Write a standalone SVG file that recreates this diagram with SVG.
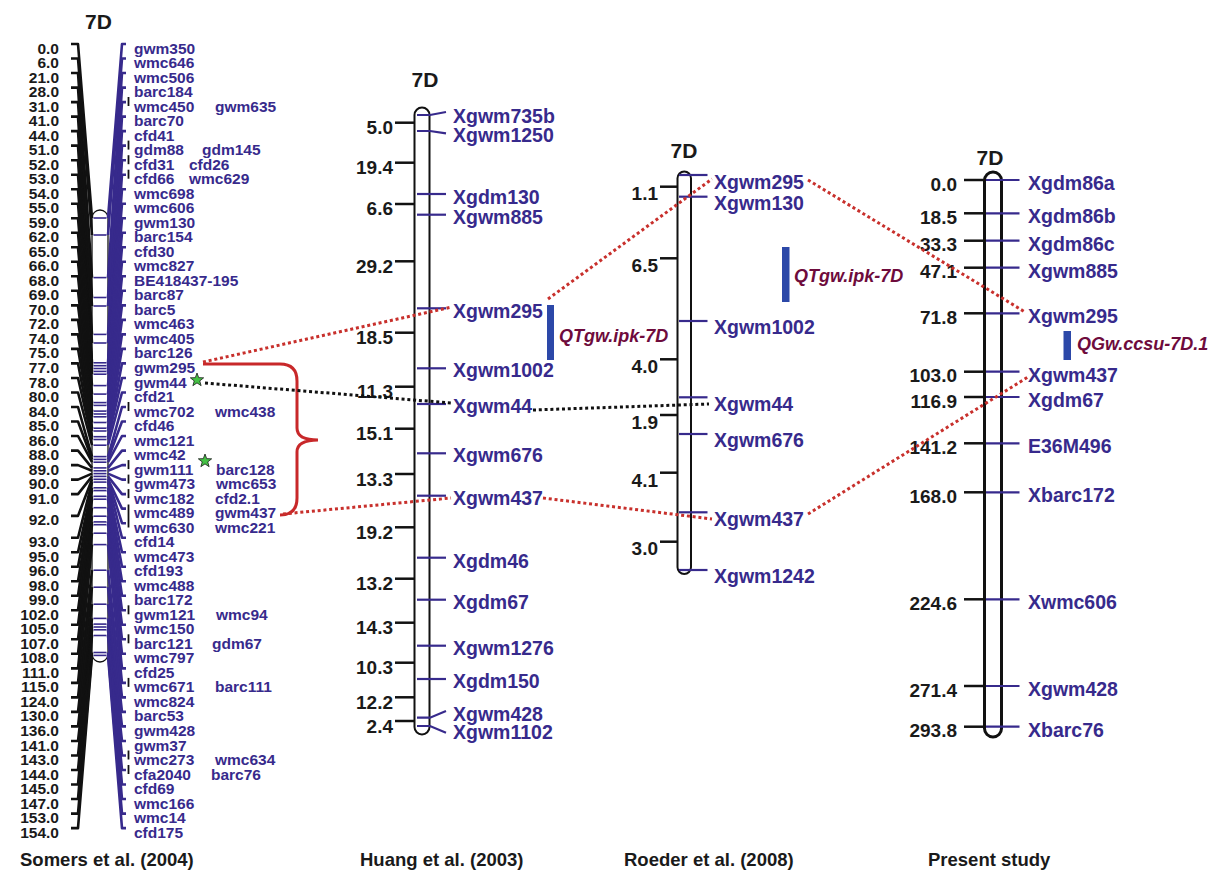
<svg xmlns="http://www.w3.org/2000/svg" width="1219" height="871" viewBox="0 0 1219 871">
<style>
text{font-family:"Liberation Sans",Arial,Helvetica,sans-serif;font-weight:bold}
.sn{font-size:15.5px;fill:#1a1a1a;text-anchor:end}
.sl{font-size:15.5px;fill:#372a8c}
.num{font-size:19px;fill:#1a1a1a;text-anchor:end}
.lab{font-size:19.5px;fill:#372a8c}
.ttl{font-size:21px;fill:#1a1a1a;text-anchor:middle}
.cap{font-size:18.5px;fill:#1a1a1a}
.qtl{font-size:18px;fill:#6e0b3c;font-style:italic}
.chrom{fill:#fff;stroke:#111}
.tick{stroke:#111;stroke-width:2.5;fill:none}
.mk{stroke:#372a8c;stroke-width:2.2;fill:none}
.rd{stroke:#c8302c;stroke-width:3;stroke-dasharray:3 2.8;fill:none}
.bd{stroke:#111;stroke-width:3;stroke-dasharray:3 2.8;fill:none}
.qbar{fill:#2c48a8}
</style>
<defs>
<polygon id="star" points="0,-7 1.7,-2.35 6.66,-2.16 2.76,0.9 4.11,5.66 0,2.9 -4.11,5.66 -2.76,0.9 -6.66,-2.16 -1.7,-2.35" fill="#44c144" stroke="#1a1a1a" stroke-width="0.8"/>
</defs>
<rect width="1219" height="871" fill="#fff"/>

<!-- Somers et al. (2004) -->
<g id="somers">
<text class="ttl" x="98.5" y="29">7D</text>
<rect class="chrom" x="92" y="210" width="16" height="452" rx="8" stroke-width="1.3"/>
<g stroke="#372a8c" stroke-width="1.6">
<line x1="93.5" x2="106.5" y1="218" y2="218"/><line x1="93.5" x2="106.5" y1="235" y2="235"/><line x1="93.5" x2="106.5" y1="277.6" y2="277.6"/><line x1="93.5" x2="106.5" y1="297.5" y2="297.5"/><line x1="93.5" x2="106.5" y1="306" y2="306"/><line x1="93.5" x2="106.5" y1="334.4" y2="334.4"/><line x1="93.5" x2="106.5" y1="343" y2="343"/><line x1="93.5" x2="106.5" y1="362.8" y2="362.8"/><line x1="93.5" x2="106.5" y1="365.7" y2="365.7"/><line x1="93.5" x2="106.5" y1="368.5" y2="368.5"/><line x1="93.5" x2="106.5" y1="371.4" y2="371.4"/><line x1="93.5" x2="106.5" y1="374.2" y2="374.2"/><line x1="93.5" x2="106.5" y1="385.6" y2="385.6"/><line x1="93.5" x2="106.5" y1="394.1" y2="394.1"/><line x1="93.5" x2="106.5" y1="402.6" y2="402.6"/><line x1="93.5" x2="106.5" y1="405.4" y2="405.4"/><line x1="93.5" x2="106.5" y1="411.1" y2="411.1"/><line x1="93.5" x2="106.5" y1="414" y2="414"/><line x1="93.5" x2="106.5" y1="416.8" y2="416.8"/><line x1="93.5" x2="106.5" y1="422.5" y2="422.5"/><line x1="93.5" x2="106.5" y1="428.2" y2="428.2"/><line x1="93.5" x2="106.5" y1="431" y2="431"/><line x1="93.5" x2="106.5" y1="436.7" y2="436.7"/><line x1="93.5" x2="106.5" y1="439.5" y2="439.5"/><line x1="93.5" x2="106.5" y1="445.2" y2="445.2"/><line x1="93.5" x2="106.5" y1="456.6" y2="456.6"/><line x1="93.5" x2="106.5" y1="459.4" y2="459.4"/><line x1="93.5" x2="106.5" y1="462.2" y2="462.2"/><line x1="93.5" x2="106.5" y1="467.9" y2="467.9"/><line x1="93.5" x2="106.5" y1="470.8" y2="470.8"/><line x1="93.5" x2="106.5" y1="473.6" y2="473.6"/><line x1="93.5" x2="106.5" y1="476.4" y2="476.4"/><line x1="93.5" x2="106.5" y1="479.3" y2="479.3"/><line x1="93.5" x2="106.5" y1="482.1" y2="482.1"/><line x1="93.5" x2="106.5" y1="487.8" y2="487.8"/><line x1="93.5" x2="106.5" y1="490.6" y2="490.6"/><line x1="93.5" x2="106.5" y1="496.3" y2="496.3"/><line x1="93.5" x2="106.5" y1="499.2" y2="499.2"/><line x1="93.5" x2="106.5" y1="507.7" y2="507.7"/><line x1="93.5" x2="106.5" y1="516.2" y2="516.2"/><line x1="93.5" x2="106.5" y1="521.9" y2="521.9"/><line x1="93.5" x2="106.5" y1="524.7" y2="524.7"/><line x1="93.5" x2="106.5" y1="533.2" y2="533.2"/><line x1="93.5" x2="106.5" y1="544.6" y2="544.6"/><line x1="93.5" x2="106.5" y1="570.2" y2="570.2"/><line x1="93.5" x2="106.5" y1="587.2" y2="587.2"/><line x1="93.5" x2="106.5" y1="604.2" y2="604.2"/><line x1="93.5" x2="106.5" y1="618.4" y2="618.4"/><line x1="93.5" x2="106.5" y1="624.1" y2="624.1"/><line x1="93.5" x2="106.5" y1="627" y2="627"/><line x1="93.5" x2="106.5" y1="629.8" y2="629.8"/><line x1="93.5" x2="106.5" y1="635.5" y2="635.5"/><line x1="93.5" x2="106.5" y1="652.5" y2="652.5"/><line x1="93.5" x2="106.5" y1="655.4" y2="655.4"/>
</g>
<g stroke="#111" stroke-width="2.6" fill="none" stroke-linejoin="round">
<polyline points="71,44 78,44 92,218"/><polyline points="71,58.5 78,58.5 92,235"/><polyline points="71,73 78,73 92,277.6"/><polyline points="71,87.6 78,87.6 92,297.5"/><polyline points="71,102.1 78,102.1 92,306"/><polyline points="71,116.6 78,116.6 92,334.4"/><polyline points="71,131.1 78,131.1 92,343"/><polyline points="71,145.6 78,145.6 92,362.8"/><polyline points="71,160.2 78,160.2 92,365.7"/><polyline points="71,174.7 78,174.7 92,368.5"/><polyline points="71,189.2 78,189.2 92,371.4"/><polyline points="71,203.7 78,203.7 92,374.2"/><polyline points="71,218.2 78,218.2 92,385.6"/><polyline points="71,232.8 78,232.8 92,394.1"/><polyline points="71,247.3 78,247.3 92,402.6"/><polyline points="71,261.8 78,261.8 92,405.4"/><polyline points="71,276.3 78,276.3 92,411.1"/><polyline points="71,290.8 78,290.8 92,414"/><polyline points="71,305.4 78,305.4 92,416.8"/><polyline points="71,319.9 78,319.9 92,422.5"/><polyline points="71,334.4 78,334.4 92,428.2"/><polyline points="71,348.9 78,348.9 92,431"/><polyline points="71,363.4 78,363.4 92,436.7"/><polyline points="71,378 78,378 92,439.5"/><polyline points="71,392.5 78,392.5 92,445.2"/><polyline points="71,407 78,407 92,456.6"/><polyline points="71,421.5 78,421.5 92,459.4"/><polyline points="71,436 78,436 92,462.2"/><polyline points="71,450.6 78,450.6 92,467.9"/><polyline points="71,465.1 78,465.1 92,470.8"/><polyline points="71,479.6 78,479.6 92,473.6"/><polyline points="71,494.1 78,494.1 92,476.4"/><polyline points="71,515.9 78,515.9 92,479.3"/><polyline points="71,537.7 78,537.7 92,482.1"/><polyline points="71,552.2 78,552.2 92,487.8"/><polyline points="71,566.7 78,566.7 92,490.6"/><polyline points="71,581.2 78,581.2 92,496.3"/><polyline points="71,595.8 78,595.8 92,499.2"/><polyline points="71,610.3 78,610.3 92,507.7"/><polyline points="71,624.8 78,624.8 92,516.2"/><polyline points="71,639.3 78,639.3 92,521.9"/><polyline points="71,653.8 78,653.8 92,524.7"/><polyline points="71,668.4 78,668.4 92,533.2"/><polyline points="71,682.9 78,682.9 92,544.6"/><polyline points="71,697.4 78,697.4 92,570.2"/><polyline points="71,711.9 78,711.9 92,587.2"/><polyline points="71,726.4 78,726.4 92,604.2"/><polyline points="71,741 78,741 92,618.4"/><polyline points="71,755.5 78,755.5 92,624.1"/><polyline points="71,770 78,770 92,627"/><polyline points="71,784.5 78,784.5 92,629.8"/><polyline points="71,799 78,799 92,635.5"/><polyline points="71,813.6 78,813.6 92,652.5"/><polyline points="71,828.1 78,828.1 92,655.4"/>
</g>
<g stroke="#372a8c" stroke-width="2.6" fill="none" stroke-linejoin="round">
<polyline points="108,218 122,44 126,44"/><polyline points="108,235 122,58.5 126,58.5"/><polyline points="108,277.6 122,73 126,73"/><polyline points="108,297.5 122,87.6 126,87.6"/><polyline points="108,306 122,102.1 126,102.1"/><polyline points="108,334.4 122,116.6 126,116.6"/><polyline points="108,343 122,131.1 126,131.1"/><polyline points="108,362.8 122,145.6 126,145.6"/><polyline points="108,365.7 122,160.2 126,160.2"/><polyline points="108,368.5 122,174.7 126,174.7"/><polyline points="108,371.4 122,189.2 126,189.2"/><polyline points="108,374.2 122,203.7 126,203.7"/><polyline points="108,385.6 122,218.2 126,218.2"/><polyline points="108,394.1 122,232.8 126,232.8"/><polyline points="108,402.6 122,247.3 126,247.3"/><polyline points="108,405.4 122,261.8 126,261.8"/><polyline points="108,411.1 122,276.3 126,276.3"/><polyline points="108,414 122,290.8 126,290.8"/><polyline points="108,416.8 122,305.4 126,305.4"/><polyline points="108,422.5 122,319.9 126,319.9"/><polyline points="108,428.2 122,334.4 126,334.4"/><polyline points="108,431 122,348.9 126,348.9"/><polyline points="108,436.7 122,363.4 126,363.4"/><polyline points="108,439.5 122,378 126,378"/><polyline points="108,445.2 122,392.5 126,392.5"/><polyline points="108,456.6 122,407 126,407"/><polyline points="108,459.4 122,421.5 126,421.5"/><polyline points="108,462.2 122,436 126,436"/><polyline points="108,467.9 122,450.6 126,450.6"/><polyline points="108,470.8 122,465.1 126,465.1"/><polyline points="108,473.6 122,479.6 126,479.6"/><polyline points="108,476.4 122,494.1 126,494.1"/><polyline points="108,479.3 122,508.6 126,508.6"/><polyline points="108,479.3 122,523.2 126,523.2"/><polyline points="108,482.1 122,537.7 126,537.7"/><polyline points="108,487.8 122,552.2 126,552.2"/><polyline points="108,490.6 122,566.7 126,566.7"/><polyline points="108,496.3 122,581.2 126,581.2"/><polyline points="108,499.2 122,595.8 126,595.8"/><polyline points="108,507.7 122,610.3 126,610.3"/><polyline points="108,516.2 122,624.8 126,624.8"/><polyline points="108,521.9 122,639.3 126,639.3"/><polyline points="108,524.7 122,653.8 126,653.8"/><polyline points="108,533.2 122,668.4 126,668.4"/><polyline points="108,544.6 122,682.9 126,682.9"/><polyline points="108,570.2 122,697.4 126,697.4"/><polyline points="108,587.2 122,711.9 126,711.9"/><polyline points="108,604.2 122,726.4 126,726.4"/><polyline points="108,618.4 122,741 126,741"/><polyline points="108,624.1 122,755.5 126,755.5"/><polyline points="108,627 122,770 126,770"/><polyline points="108,629.8 122,784.5 126,784.5"/><polyline points="108,635.5 122,799 126,799"/><polyline points="108,652.5 122,813.6 126,813.6"/><polyline points="108,655.4 122,828.1 126,828.1"/>
</g>
<g stroke="#111" stroke-width="1.8">
<line x1="128.5" x2="128.5" y1="97" y2="106"/><line x1="128.5" x2="128.5" y1="140.6" y2="149.6"/><line x1="128.5" x2="128.5" y1="155.2" y2="164.2"/><line x1="128.5" x2="128.5" y1="169.7" y2="178.7"/><line x1="128.5" x2="128.5" y1="402" y2="411"/><line x1="128.5" x2="128.5" y1="460.1" y2="469.1"/><line x1="128.5" x2="128.5" y1="474.6" y2="483.6"/><line x1="128.5" x2="128.5" y1="489.1" y2="498.1"/><line x1="128.5" x2="128.5" y1="504.5" y2="527.5"/><line x1="128.5" x2="128.5" y1="605.3" y2="614.3"/><line x1="128.5" x2="128.5" y1="634.3" y2="643.3"/><line x1="128.5" x2="128.5" y1="677.9" y2="686.9"/><line x1="128.5" x2="128.5" y1="750.5" y2="759.5"/><line x1="128.5" x2="128.5" y1="765" y2="774"/>
</g>
<g class="sn">
<text class="sn" x="59" y="53.5">0.0</text><text class="sn" x="59" y="68">6.0</text><text class="sn" x="59" y="82.5">21.0</text><text class="sn" x="59" y="97.1">28.0</text><text class="sn" x="59" y="111.6">31.0</text><text class="sn" x="59" y="126.1">41.0</text><text class="sn" x="59" y="140.6">44.0</text><text class="sn" x="59" y="155.1">51.0</text><text class="sn" x="59" y="169.7">52.0</text><text class="sn" x="59" y="184.2">53.0</text><text class="sn" x="59" y="198.7">54.0</text><text class="sn" x="59" y="213.2">55.0</text><text class="sn" x="59" y="227.7">59.0</text><text class="sn" x="59" y="242.3">62.0</text><text class="sn" x="59" y="256.8">65.0</text><text class="sn" x="59" y="271.3">66.0</text><text class="sn" x="59" y="285.8">68.0</text><text class="sn" x="59" y="300.3">69.0</text><text class="sn" x="59" y="314.9">70.0</text><text class="sn" x="59" y="329.4">72.0</text><text class="sn" x="59" y="343.9">74.0</text><text class="sn" x="59" y="358.4">75.0</text><text class="sn" x="59" y="372.9">77.0</text><text class="sn" x="59" y="387.5">78.0</text><text class="sn" x="59" y="402">80.0</text><text class="sn" x="59" y="416.5">84.0</text><text class="sn" x="59" y="431">85.0</text><text class="sn" x="59" y="445.5">86.0</text><text class="sn" x="59" y="460.1">88.0</text><text class="sn" x="59" y="474.6">89.0</text><text class="sn" x="59" y="489.1">90.0</text><text class="sn" x="59" y="503.6">91.0</text><text class="sn" x="59" y="525.4">92.0</text><text class="sn" x="59" y="547.2">93.0</text><text class="sn" x="59" y="561.7">95.0</text><text class="sn" x="59" y="576.2">96.0</text><text class="sn" x="59" y="590.7">98.0</text><text class="sn" x="59" y="605.3">99.0</text><text class="sn" x="59" y="619.8">102.0</text><text class="sn" x="59" y="634.3">105.0</text><text class="sn" x="59" y="648.8">107.0</text><text class="sn" x="59" y="663.3">108.0</text><text class="sn" x="59" y="677.9">111.0</text><text class="sn" x="59" y="692.4">115.0</text><text class="sn" x="59" y="706.9">124.0</text><text class="sn" x="59" y="721.4">130.0</text><text class="sn" x="59" y="735.9">136.0</text><text class="sn" x="59" y="750.5">141.0</text><text class="sn" x="59" y="765">143.0</text><text class="sn" x="59" y="779.5">144.0</text><text class="sn" x="59" y="794">145.0</text><text class="sn" x="59" y="808.5">147.0</text><text class="sn" x="59" y="823.1">153.0</text><text class="sn" x="59" y="837.6">154.0</text>
</g>
<g class="sl">
<text class="sl" x="134" y="53.5">gwm350</text><text class="sl" x="134" y="68">wmc646</text><text class="sl" x="134" y="82.5">wmc506</text><text class="sl" x="134" y="97.1">barc184</text><text class="sl" x="134" y="111.6">wmc450</text><text class="sl" x="215" y="111.6">gwm635</text><text class="sl" x="134" y="126.1">barc70</text><text class="sl" x="134" y="140.6">cfd41</text><text class="sl" x="134" y="155.1">gdm88</text><text class="sl" x="202" y="155.1">gdm145</text><text class="sl" x="134" y="169.7">cfd31</text><text class="sl" x="189" y="169.7">cfd26</text><text class="sl" x="134" y="184.2">cfd66</text><text class="sl" x="189" y="184.2">wmc629</text><text class="sl" x="134" y="198.7">wmc698</text><text class="sl" x="134" y="213.2">wmc606</text><text class="sl" x="134" y="227.7">gwm130</text><text class="sl" x="134" y="242.3">barc154</text><text class="sl" x="134" y="256.8">cfd30</text><text class="sl" x="134" y="271.3">wmc827</text><text class="sl" x="134" y="285.8">BE418437-195</text><text class="sl" x="134" y="300.3">barc87</text><text class="sl" x="134" y="314.9">barc5</text><text class="sl" x="134" y="329.4">wmc463</text><text class="sl" x="134" y="343.9">wmc405</text><text class="sl" x="134" y="358.4">barc126</text><text class="sl" x="134" y="372.9">gwm295</text><text class="sl" x="134" y="387.5">gwm44</text><text class="sl" x="134" y="402">cfd21</text><text class="sl" x="134" y="416.5">wmc702</text><text class="sl" x="215" y="416.5">wmc438</text><text class="sl" x="134" y="431">cfd46</text><text class="sl" x="134" y="445.5">wmc121</text><text class="sl" x="134" y="460.1">wmc42</text><text class="sl" x="134" y="474.6">gwm111</text><text class="sl" x="216" y="474.6">barc128</text><text class="sl" x="134" y="489.1">gwm473</text><text class="sl" x="216" y="489.1">wmc653</text><text class="sl" x="134" y="503.6">wmc182</text><text class="sl" x="215" y="503.6">cfd2.1</text><text class="sl" x="134" y="518.1">wmc489</text><text class="sl" x="215" y="518.1">gwm437</text><text class="sl" x="134" y="532.7">wmc630</text><text class="sl" x="215" y="532.7">wmc221</text><text class="sl" x="134" y="547.2">cfd14</text><text class="sl" x="134" y="561.7">wmc473</text><text class="sl" x="134" y="576.2">cfd193</text><text class="sl" x="134" y="590.7">wmc488</text><text class="sl" x="134" y="605.3">barc172</text><text class="sl" x="134" y="619.8">gwm121</text><text class="sl" x="216" y="619.8">wmc94</text><text class="sl" x="134" y="634.3">wmc150</text><text class="sl" x="134" y="648.8">barc121</text><text class="sl" x="212" y="648.8">gdm67</text><text class="sl" x="134" y="663.3">wmc797</text><text class="sl" x="134" y="677.9">cfd25</text><text class="sl" x="134" y="692.4">wmc671</text><text class="sl" x="215" y="692.4">barc111</text><text class="sl" x="134" y="706.9">wmc824</text><text class="sl" x="134" y="721.4">barc53</text><text class="sl" x="134" y="735.9">gwm428</text><text class="sl" x="134" y="750.5">gwm37</text><text class="sl" x="134" y="765">wmc273</text><text class="sl" x="215" y="765">wmc634</text><text class="sl" x="134" y="779.5">cfa2040</text><text class="sl" x="211" y="779.5">barc76</text><text class="sl" x="134" y="794">cfd69</text><text class="sl" x="134" y="808.5">wmc166</text><text class="sl" x="134" y="823.1">wmc14</text><text class="sl" x="134" y="837.6">cfd175</text>
</g>
<text class="cap" x="20" y="866">Somers et al. (2004)</text>
</g>

<!-- Huang et al. (2003) -->
<g id="huang">
<text class="ttl" x="425" y="86.5">7D</text>
<rect class="chrom" x="414.5" y="107.5" width="15" height="627" rx="7.5" stroke-width="2"/>
<g class="tick">
<line x1="395" x2="414.5" y1="122.7" y2="122.7"/><line x1="395" x2="414.5" y1="162.7" y2="162.7"/><line x1="395" x2="414.5" y1="204" y2="204"/><line x1="395" x2="414.5" y1="261.3" y2="261.3"/><line x1="395" x2="414.5" y1="332.7" y2="332.7"/><line x1="395" x2="414.5" y1="386.7" y2="386.7"/><line x1="395" x2="414.5" y1="428.7" y2="428.7"/><line x1="395" x2="414.5" y1="474" y2="474"/><line x1="395" x2="414.5" y1="527.3" y2="527.3"/><line x1="395" x2="414.5" y1="578.7" y2="578.7"/><line x1="395" x2="414.5" y1="622.7" y2="622.7"/><line x1="395" x2="414.5" y1="662.7" y2="662.7"/><line x1="395" x2="414.5" y1="697.3" y2="697.3"/><line x1="395" x2="414.5" y1="721" y2="721"/>
</g>
<g>
<text class="num" x="393" y="134">5.0</text><text class="num" x="393" y="174">19.4</text><text class="num" x="393" y="215.3">6.6</text><text class="num" x="393" y="272.6">29.2</text><text class="num" x="393" y="344">18.5</text><text class="num" x="393" y="397.5">11.3</text><text class="num" x="393" y="440">15.1</text><text class="num" x="393" y="485.5">13.3</text><text class="num" x="393" y="538.5">19.2</text><text class="num" x="393" y="590">13.2</text><text class="num" x="393" y="634">14.3</text><text class="num" x="393" y="674">10.3</text><text class="num" x="393" y="708.5">12.2</text><text class="num" x="393" y="733">2.4</text>
</g>
<g class="mk">
<polyline points="417,115 430,115 446,112"/><polyline points="417,131 430,131 446,133.3"/><line x1="417" x2="446" y1="194" y2="194"/><line x1="417" x2="446" y1="214.7" y2="214.7"/><line x1="417" x2="446" y1="308.3" y2="308.3"/><line x1="417" x2="446" y1="368.3" y2="368.3"/><line x1="417" x2="446" y1="404" y2="404"/><line x1="417" x2="446" y1="453.3" y2="453.3"/><line x1="417" x2="446" y1="495.7" y2="495.7"/><line x1="417" x2="446" y1="557.7" y2="557.7"/><line x1="417" x2="446" y1="599.7" y2="599.7"/><line x1="417" x2="446" y1="645.7" y2="645.7"/><line x1="417" x2="446" y1="679" y2="679"/><polyline points="417,717.7 430,717.7 446,711"/><polyline points="417,726 430,726 446,732.7"/>
</g>
<g>
<text class="lab" x="453" y="123">Xgwm735b</text><text class="lab" x="453" y="142">Xgwm1250</text><text class="lab" x="453" y="203.5">Xgdm130</text><text class="lab" x="453" y="224.3">Xgwm885</text><text class="lab" x="453" y="318.3">Xgwm295</text><text class="lab" x="453" y="377">Xgwm1002</text><text class="lab" x="453" y="413">Xgwm44</text><text class="lab" x="453" y="462">Xgwm676</text><text class="lab" x="453" y="505">Xgwm437</text><text class="lab" x="453" y="567.7">Xgdm46</text><text class="lab" x="453" y="609.3">Xgdm67</text><text class="lab" x="453" y="655">Xgwm1276</text><text class="lab" x="453" y="688.3">Xgdm150</text><text class="lab" x="453" y="720.5">Xgwm428</text><text class="lab" x="453" y="739">Xgwm1102</text>
</g>
<rect class="qbar" x="547" y="305" width="7" height="55"/>
<text class="qtl" x="559" y="342">QTgw.ipk-7D</text>
<text class="cap" x="360" y="866">Huang et al. (2003)</text>
</g>

<!-- Roeder et al. (2008) -->
<g id="roeder">
<text class="ttl" x="684" y="158">7D</text>
<rect class="chrom" x="677.5" y="171.5" width="13.5" height="402.5" rx="6.75" stroke-width="2"/>
<g class="tick">
<line x1="660" x2="677.5" y1="186.7" y2="186.7"/><line x1="660" x2="677.5" y1="258.3" y2="258.3"/><line x1="660" x2="677.5" y1="359.3" y2="359.3"/><line x1="660" x2="677.5" y1="415" y2="415"/><line x1="660" x2="677.5" y1="472.7" y2="472.7"/><line x1="660" x2="677.5" y1="541.7" y2="541.7"/>
</g>
<g>
<text class="num" x="658" y="200">1.1</text><text class="num" x="658" y="271.7">6.5</text><text class="num" x="658" y="373.3">4.0</text><text class="num" x="658" y="429">1.9</text><text class="num" x="658" y="486.7">4.1</text><text class="num" x="658" y="555">3.0</text>
</g>
<g class="mk">
<line x1="679" x2="707.5" y1="175" y2="175"/><line x1="679" x2="707.5" y1="196.7" y2="196.7"/><line x1="679" x2="707.5" y1="321" y2="321"/><line x1="679" x2="707.5" y1="397.3" y2="397.3"/><line x1="679" x2="707.5" y1="434" y2="434"/><line x1="679" x2="707.5" y1="512.3" y2="512.3"/><line x1="679" x2="707.5" y1="570" y2="570"/>
</g>
<g>
<text class="lab" x="714" y="189">Xgwm295</text><text class="lab" x="714" y="210">Xgwm130</text><text class="lab" x="714" y="334">Xgwm1002</text><text class="lab" x="714" y="410.5">Xgwm44</text><text class="lab" x="714" y="447">Xgwm676</text><text class="lab" x="714" y="526">Xgwm437</text><text class="lab" x="714" y="582.5">Xgwm1242</text>
</g>
<rect class="qbar" x="782" y="247" width="7.5" height="55"/>
<text class="qtl" x="794" y="282">QTgw.ipk-7D</text>
<text class="cap" x="624" y="866">Roeder et al. (2008)</text>
</g>

<!-- Present study -->
<g id="present">
<text class="ttl" x="990" y="165">7D</text>
<rect class="chrom" x="984.5" y="172" width="17" height="565" rx="8.5" stroke-width="3"/>
<g class="tick" stroke-width="3">
<line x1="964" x2="984.5" y1="180" y2="180"/><line x1="964" x2="984.5" y1="213.3" y2="213.3"/><line x1="964" x2="984.5" y1="240.7" y2="240.7"/><line x1="964" x2="984.5" y1="267.7" y2="267.7"/><line x1="964" x2="984.5" y1="313.3" y2="313.3"/><line x1="964" x2="984.5" y1="371.7" y2="371.7"/><line x1="964" x2="984.5" y1="397" y2="397"/><line x1="964" x2="984.5" y1="443.3" y2="443.3"/><line x1="964" x2="984.5" y1="492.3" y2="492.3"/><line x1="964" x2="984.5" y1="599.3" y2="599.3"/><line x1="964" x2="984.5" y1="686" y2="686"/><line x1="964" x2="984.5" y1="726.7" y2="726.7"/>
</g>
<g>
<text class="num" x="957" y="191">0.0</text><text class="num" x="957" y="224">18.5</text><text class="num" x="957" y="251.3">33.3</text><text class="num" x="957" y="278.3">47.1</text><text class="num" x="957" y="324">71.8</text><text class="num" x="957" y="382.3">103.0</text><text class="num" x="957" y="407.7">116.9</text><text class="num" x="957" y="454">141.2</text><text class="num" x="957" y="503">168.0</text><text class="num" x="957" y="610">224.6</text><text class="num" x="957" y="696.7">271.4</text><text class="num" x="957" y="737.3">293.8</text>
</g>
<g class="mk">
<line x1="986" x2="1019.5" y1="180" y2="180"/><line x1="986" x2="1019.5" y1="213.3" y2="213.3"/><line x1="986" x2="1019.5" y1="240.7" y2="240.7"/><line x1="986" x2="1019.5" y1="267.7" y2="267.7"/><line x1="986" x2="1019.5" y1="313.3" y2="313.3"/><line x1="986" x2="1019.5" y1="371.7" y2="371.7"/><line x1="986" x2="1019.5" y1="397" y2="397"/><line x1="986" x2="1019.5" y1="443.3" y2="443.3"/><line x1="986" x2="1019.5" y1="492.3" y2="492.3"/><line x1="986" x2="1019.5" y1="599.3" y2="599.3"/><line x1="986" x2="1019.5" y1="686" y2="686"/><line x1="986" x2="1019.5" y1="726.7" y2="726.7"/>
</g>
<g>
<text class="lab" x="1028" y="189.5">Xgdm86a</text><text class="lab" x="1028" y="223">Xgdm86b</text><text class="lab" x="1028" y="250.5">Xgdm86c</text><text class="lab" x="1028" y="277.5">Xgwm885</text><text class="lab" x="1028" y="323">Xgwm295</text><text class="lab" x="1028" y="381.5">Xgwm437</text><text class="lab" x="1028" y="407">Xgdm67</text><text class="lab" x="1028" y="453">E36M496</text><text class="lab" x="1028" y="502">Xbarc172</text><text class="lab" x="1028" y="609">Xwmc606</text><text class="lab" x="1028" y="696">Xgwm428</text><text class="lab" x="1028" y="736.5">Xbarc76</text>
</g>
<rect class="qbar" x="1063.5" y="331" width="7.5" height="29"/>
<text class="qtl" x="1077" y="350">QGw.ccsu-7D.1</text>
<text class="cap" x="928" y="866">Present study</text>
</g>

<!-- connectors -->
<g id="connectors">
<path d="M203,364 H280 Q297,364 297,381 V428 Q297,440 318,440 Q297,440 297,452 V498 Q297,515 280,515" fill="none" stroke="#c8282a" stroke-width="3"/>
<line class="rd" x1="203" y1="362" x2="452" y2="307"/>
<line class="rd" x1="548" y1="299" x2="712" y2="179"/>
<line class="rd" x1="808" y1="180" x2="1025" y2="312"/>
<line class="rd" x1="283" y1="514" x2="451" y2="498"/>
<line class="rd" x1="543" y1="498" x2="712" y2="519"/>
<line class="rd" x1="808" y1="514" x2="1028" y2="377"/>
<line class="bd" x1="205" y1="383" x2="451" y2="403"/>
<line class="bd" x1="533" y1="410" x2="709" y2="404"/>
<use href="#star" x="197" y="380"/>
<use href="#star" x="205" y="461"/>
</g>
</svg>
